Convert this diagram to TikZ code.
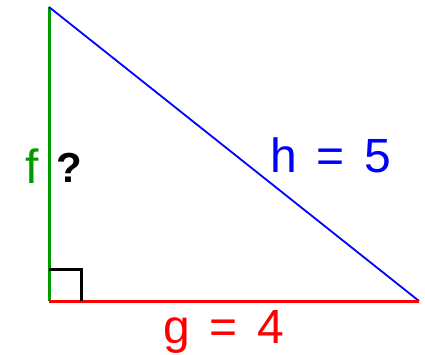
\documentclass[tikz,border=0pt]{standalone}
\usepackage{fontspec}
\setmainfont{Liberation Sans}
\usepackage{tikz}
\usetikzlibrary{positioning, calc}
\usepackage{xcolor}
\definecolor{sidegreen}{RGB}{0,153,0}
\definecolor{hypblue}{RGB}{0,0,255}
\definecolor{baseRed}{RGB}{255,0,0}

\begin{document}
\begin{tikzpicture}[x=1pt, y=-1pt, label/.style={font=\fontsize{48}{48}\selectfont, inner sep=0pt}]
  \useasboundingbox (0,0) rectangle (425,355);
  \coordinate (top) at (49,7);
  \coordinate (corner) at (49,301);
  \coordinate (right) at (419,301);
  \draw[sidegreen, line width=3pt] (top) -- (corner);
  \draw[hypblue, line width=1.8pt] (top) -- (right);
  \draw[baseRed, line width=3pt] (corner) -- (right);
  \draw[line width=3pt] ($(corner)+(0,-32)$) -| ($(corner)+(32,0)$);
  \node[sidegreen, label] (fside) at (32,166) {f};
  \node[label, font=\fontsize{42}{42}\selectfont\bfseries] (ask) at (69,168) {?};
  \node[hypblue, label] (hside) at (331,155) {h\hspace{6pt} = \hspace{6pt}5};
  \node[baseRed, label] (gside) at (224,332) {g\hspace{6pt} = \hspace{6pt}4};
\end{tikzpicture}
\end{document}
